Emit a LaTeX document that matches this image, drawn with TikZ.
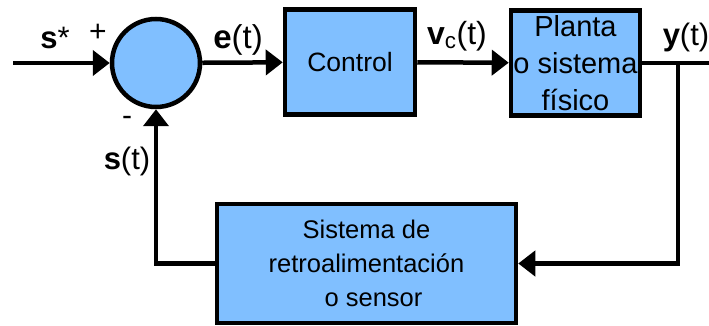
\documentclass[tikz,border=0pt]{standalone}
\usepackage{fontspec}
\setmainfont{Liberation Sans}
\usetikzlibrary{arrows.meta}
\usetikzlibrary{positioning}
\definecolor{azulbloque}{rgb}{0.5,0.75,1}

\begin{document}
\begin{tikzpicture}[line join=miter,>={Triangle[length=17pt,width=25pt]},x=1pt,y=-1pt,line width=4.5pt,
  bloque/.style={draw,fill=azulbloque,rectangle,inner sep=0pt,align=center,font=\fontsize{26.5}{36}\selectfont},
  senal/.style={font=\fontsize{31}{36}\selectfont,inner sep=0pt}]
\useasboundingbox (0,0) rectangle (709,326);
% bloques
\node[draw,fill=azulbloque,circle,minimum size=88pt,inner sep=0pt] (suma) at (156,63) {};
\node[bloque,minimum width=130pt,minimum height=105pt] (control) at (350,62) {Control};
\node[bloque,minimum width=129pt,minimum height=105pt,font=\fontsize{29}{37}\selectfont] (planta) at (575.5,63)
  {Planta\\o sistema\\físico};
\node[bloque,minimum width=299pt,minimum height=119pt,font=\fontsize{25.5}{34}\selectfont] (sensor) at (366.5,263.5)
  {Sistema de\\retroalimentación\\\hspace*{14pt}o sensor};
% puntos de la red
\coordinate (entrada) at (13,63);
\coordinate (ramal) at (678,63);
\coordinate (salida) at (711,63);
\coordinate (abajo) at (678,263.5);
% conexiones
\draw[->] (entrada) -- (suma);
\draw[->] (suma) -- (control);
\draw[->] (control) -- (planta);
\draw (planta) -- (salida);
\draw[->] (ramal) -- (abajo) -- (sensor.east);
\draw[->] (sensor.west) -| (suma.south);
% etiquetas
\node[senal] (sref) at (55,38) {\textbf{s}*};
\node[senal,font=\fontsize{30}{30}\selectfont] (mas) at (98,33) {+};
\node[senal,font=\fontsize{30}{30}\selectfont] (menos) at (127,121) {-};
\node[senal] (st) at (127,161) {\textbf{s}(t)};
\node[senal,font=\fontsize{33}{36}\selectfont] (et) at (238,40) {\textbf{e}(t)};
\node[senal,font=\fontsize{32}{36}\selectfont] (vct) at (457,36) {\textbf{v}\textsubscript{c}(t)};
\node[senal] (yt) at (686,37) {\textbf{y}(t)};
\end{tikzpicture}
\end{document}
